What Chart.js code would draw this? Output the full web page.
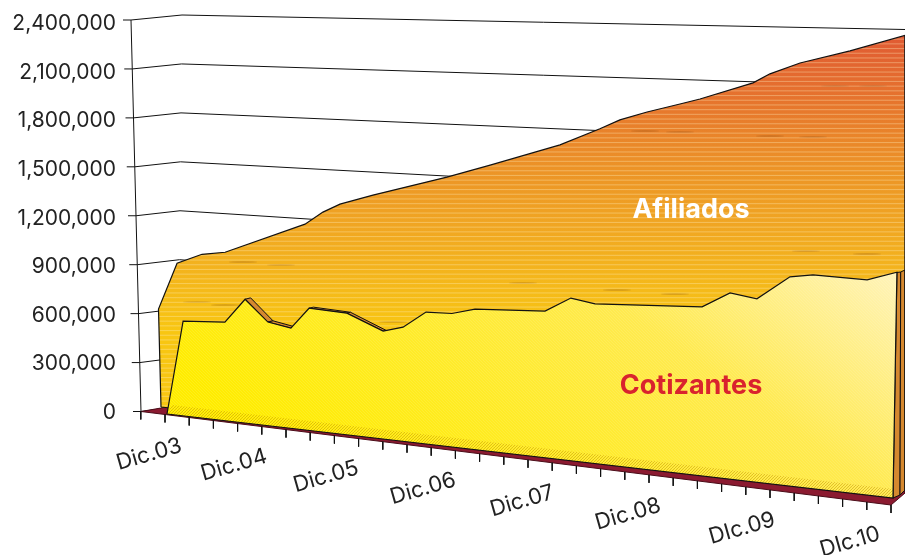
<!DOCTYPE html>
<html><head><meta charset="utf-8">
<style>html,body{margin:0;padding:0;background:#fff}canvas{display:block}</style>
<script src="https://cdn.jsdelivr.net/npm/chart.js@4/dist/chart.umd.js"></script>
</head><body><canvas id="c" width="905" height="555"></canvas>
<script>
// ---- data ----
const yTickValues = [0,300000,600000,900000,1200000,1500000,1800000,2100000,2400000];
const xLabels = ['Dic.03','Dic.04','Dic.05','Dic.06','Dic.07','Dic.08','DIc.09','DIc.10'];
const xLabelPos = [-0.74,2.77,6.57,10.58,14.67,19.05,23.76,28.22];
const xTickIndex = [-1,0,1,2,3,4,5,6,7,8,9,10,11,12,13,14,15,16,17,18,19,20,21,22,23,24,25,26,27,28,29,30];
const afiliadosPos = [0,0.81,1.84,2.79,6.08,6.82,7.52,8.87,11.89,13.65,16.49,18.11,18.92,20.02,21.35,22.16,24.3,24.98,26.19,28.2,30.4];
const afiliados = [600000,890000,956000,979000,1181000,1259000,1312000,1377000,1505000,1586000,1719000,1818000,1872000,1921000,1971000,2002000,2098000,2149000,2211000,2281000,2368000];
const cotizantesPos = [0,0.76,2.48,3.33,4.25,5.19,5.95,7.5,8.98,9.8,10.75,11.81,12.76,15.63,16.69,17.68,22.06,23.2,24.3,25.64,26.58,28.79,30];
const cotizantes = [0,579000,596000,745000,620000,596000,724000,714000,628000,661000,760000,764000,800000,822000,906000,884000,914000,1001000,980000,1110000,1129000,1123000,1173000];

// ---- scene projection (pixel constants -> scale units) ----
const PX_PER_VALUE = 391.5/2400000, Y0 = 411.5, X0 = 167, PX_PER_TICK = 24.2;
const toData = (px,py)=>({x:(px-X0)/PX_PER_TICK, y:(Y0-py)/PX_PER_VALUE});
function plane(x0, base0){
  return (t,v)=>{
    const f = v/2400000;
    return [x0+PX_PER_TICK*t+(-10+0.6*t)*f, base0+2.8*t-(392+2.33*t)*f];
  };
}
const front = plane(167,414), back = plane(161,407);
const P = (fn,t,v)=>{const p=fn(t,v);return toData(p[0],p[1]);};
const floorY = px=>411.5+0.1247*(px-141);

// textures
const streaks=[[197,302],[225,305],[243,262],[281,265],[393,322],[523,283],[617,290],[645,131],[675,294],[680,132],[770,136],[806,251],[813,137],[835,86],[867,254],[873,86]];
function tex(paint){const c=document.createElement('canvas');c.width=905;c.height=555;const g=c.getContext('2d');paint(g);
  return document.getElementById('c').getContext('2d').createPattern(c,'no-repeat');}
const afiTex = tex(g=>{
  const l=g.createLinearGradient(0,35,0,330);
  l.addColorStop(0,'#e05a33');l.addColorStop(.22,'#e6742d');l.addColorStop(.46,'#ec9427');l.addColorStop(.73,'#f2ae20');l.addColorStop(1,'#f8c612');
  g.fillStyle=l;g.fillRect(0,0,905,555);
  g.fillStyle='rgba(120,60,10,.20)';
  streaks.forEach(s=>{g.beginPath();g.ellipse(s[0],s[1],14,1,0,0,7);g.fill();});
  g.fillStyle='rgba(255,240,190,.34)';
  for(let y=1;y<555;y+=4.7){g.fillRect(0,y,905,1.1);}
});
const cotTex = tex(g=>{
  const l=g.createLinearGradient(220,400,570,-100);
  l.addColorStop(0,'#ffec00');l.addColorStop(.5,'#ffea50');l.addColorStop(.8,'#fff3b8');l.addColorStop(1,'#fffbe8');
  g.fillStyle=l;g.fillRect(0,0,905,555);
  g.strokeStyle='rgba(255,255,255,.10)';g.lineWidth=1;
  for(let d=-600;d<1500;d+=3){g.beginPath();g.moveTo(d,0);g.lineTo(d+555,555);g.stroke();}
  g.save();g.beginPath();g.moveTo(172,405);g.lineTo(893,489);g.lineTo(893,498);g.lineTo(167,414);g.closePath();g.clip();
  g.strokeStyle='rgba(190,140,0,.45)';
  for(let d=-600;d<1500;d+=3){g.beginPath();g.moveTo(d,555);g.lineTo(d+555,0);g.stroke();}
  g.restore();
});

// ---- datasets ----
const INK='#111', SIDE='#d5882f', FLOOR='#8b1a30';
const ds=[];
const line=(data,o={})=>ds.push(Object.assign({data,showLine:true,pointRadius:0,borderColor:INK,borderWidth:1,tension:0,fill:false,clip:false,order:-ds.length},o));
// gridlines and y ticks
yTickValues.forEach(v=>{
  const f=v/2400000, ax=141-10*f, ay=411.5-391.5*f;
  line([toData(ax-8,ay),toData(ax,ay),toData(178+4*f,406.5-391.5*f),toData(905,485.5-456*f)]);
});
line([toData(131,20),toData(141,411.5)]);
// floor
line([toData(141,411.5),toData(178,405),toData(905,490),toData(905,493),toData(891,505),toData(141,411.5)],{fill:'shape',backgroundColor:FLOOR,borderColor:'#4a0c18'});
// x ticks
xTickIndex.forEach(k=>{const px=165+24.2*k,py=floorY(px);line([toData(px,py),toData(px,py+8)]);});
// afiliados face
const afiPoly=afiliadosPos.map((t,i)=>P(back,t,afiliados[i]));
line([P(back,0,0),...afiPoly,toData(905,490),P(back,0,0)],{fill:'shape',backgroundColor:afiTex,borderWidth:1.2,label:'Afiliados'});
// right side of cotizantes slab
line([toData(893,498),toData(897,272.5),toData(900.7,272),toData(900,495),toData(893,498)],{fill:'shape',backgroundColor:SIDE});
line([toData(900.7,272),toData(905,270),toData(905,490),toData(900,495),toData(900.7,272)],{fill:'shape',backgroundColor:SIDE});
// slab top on falling stretches
cotizantes.forEach((v,i)=>{
  if(i===cotizantes.length-1||cotizantes[i+1]>=v)return;
  const t0=cotizantesPos[i],t1=cotizantesPos[i+1],v1=cotizantes[i+1];
  const dx=t=>Math.max(0,7-0.45*t);
  if(dx(t0)<=0)return;
  const a=front(t0,v),b=front(t1,v1);
  const q=[toData(a[0],a[1]),toData(a[0]+dx(t0),a[1]-dx(t0)/4),toData(b[0]+dx(t1),b[1]-dx(t1)/4),toData(b[0],b[1])];
  line([...q,q[0]],{fill:'shape',backgroundColor:SIDE});
});
// cotizantes face
const cotPoly=cotizantesPos.map((t,i)=>P(front,t,cotizantes[i]));
line([...cotPoly,P(front,30,0),P(front,0,0)],{fill:'shape',backgroundColor:cotTex,borderWidth:1.2,label:'Cotizantes'});

// ---- text drawn at scale positions ----
const LABEL_FONT='22px Inter, sans-serif';
const textPlugin={id:'sceneText',afterDatasetsDraw(ch){
  const c=ch.ctx,xs=ch.scales.x;
  c.save();c.textAlign='center';c.textBaseline='middle';
  c.fillStyle='#222';c.font=LABEL_FONT;
  xLabels.forEach((s,i)=>{
    const px=xs.getPixelForValue(xLabelPos[i]);
    c.save();c.translate(px,floorY(px)+42);c.rotate(-16*Math.PI/180);c.fillText(s,0,0);c.restore();
  });
  c.font='bold 27px Inter, sans-serif';
  c.fillStyle='#ffffff';c.fillText('Afiliados',691,210);
  c.fillStyle='#d9232e';c.fillText('Cotizantes',691,385.5);
  c.restore();
}};

new Chart(document.getElementById('c'),{
  type:'scatter',
  data:{datasets:ds},
  options:{
    responsive:false,animation:false,events:[],
    layout:{padding:0,autoPadding:false},
    plugins:{legend:{display:false},tooltip:{enabled:false},title:{display:false}},
    scales:{
      x:{type:'linear',display:false,min:(121-X0)/PX_PER_TICK,max:(905-X0)/PX_PER_TICK},
      y:{type:'linear',min:(Y0-555)/PX_PER_VALUE,max:Y0/PX_PER_VALUE,
         grid:{display:false,drawTicks:false},border:{display:false},
         afterBuildTicks:s=>{
           s.ticks=yTickValues.map(v=>({value:v}));
           s.getPixelForTick=i=>s.getPixelForValue(s.ticks[i].value)+1+3*s.ticks[i].value/2400000;
         },
         afterFit:s=>{s.width=121;s.paddingTop=0;s.paddingBottom=0;},
         ticks:{autoSkip:false,padding:5,color:'#222',font:{family:'Inter, sans-serif',size:21},
           callback:v=>Number(v).toLocaleString('en-US')}}
    }
  },
  plugins:[textPlugin]
});
</script></body></html>
